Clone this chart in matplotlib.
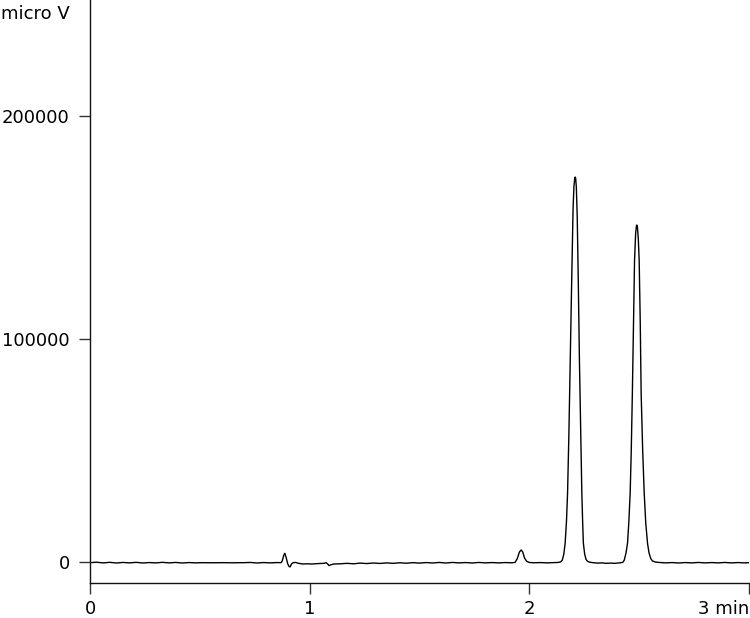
import matplotlib
matplotlib.use("Agg")
import matplotlib.pyplot as plt

# Chromatogram trace (time in min, signal in micro V)
time_min = [
    0.00, 0.03, 0.06, 0.09, 0.12, 0.15, 0.18, 0.21, 0.24, 0.27, 0.30, 0.33, 0.36, 0.39,
    0.42, 0.45, 0.48, 0.51, 0.55, 0.60, 0.65, 0.70, 0.73, 0.76, 0.79, 0.82, 0.85, 0.87,
    0.875, 0.882, 0.887, 0.893, 0.900, 0.906, 0.911, 0.918, 0.925, 0.935, 0.95, 0.97,
    0.99, 1.01, 1.04, 1.065, 1.075, 1.082, 1.088, 1.095, 1.11, 1.14, 1.17, 1.20, 1.23,
    1.26, 1.29, 1.32, 1.35, 1.38, 1.41, 1.44, 1.47, 1.50, 1.53, 1.56, 1.59, 1.62, 1.65,
    1.68, 1.71, 1.74, 1.77, 1.80, 1.83, 1.86, 1.89, 1.92, 1.935, 1.945, 1.955, 1.963,
    1.970, 1.978, 1.988, 2.00, 2.02, 2.05, 2.08, 2.11, 2.13, 2.142, 2.150, 2.157, 2.163,
    2.169, 2.174, 2.180, 2.186, 2.193, 2.199, 2.203, 2.207, 2.209, 2.211, 2.214, 2.218,
    2.223, 2.228, 2.234, 2.239, 2.243, 2.246, 2.252, 2.258, 2.265, 2.275, 2.29, 2.31,
    2.33, 2.35, 2.37, 2.39, 2.41, 2.425, 2.432, 2.440, 2.447, 2.453, 2.459, 2.464, 2.469,
    2.474, 2.479, 2.484, 2.488, 2.4895, 2.492, 2.496, 2.500, 2.505, 2.509, 2.516, 2.523,
    2.530, 2.538, 2.545, 2.553, 2.560, 2.573, 2.59, 2.62, 2.65, 2.68, 2.71, 2.74, 2.77,
    2.80, 2.83, 2.86, 2.89, 2.92, 2.95, 2.98, 3.00,
]
signal_uv = [
    -300, -100, -400, -150, -450, -200, -400, -150, -450, -250, -400, -150, -400, -200,
    -450, -250, -400, -300, -350, -300, -350, -300, -200, -450, -250, -400, -250, -300,
    500, 3000, 3900, 2000, -800, -2000, -2200, -800, -300, -200, -600, -900,
    -800, -900, -700, -600, -300, -900, -1600, -1300, -900, -800, -600, -800, -500,
    -700, -450, -650, -400, -600, -350, -550, -300, -500, -250, -450, -200, -450, -200,
    -400, -250, -450, -200, -400, -250, -400, -250, -350, -200, 1500, 4500, 5400,
    4500, 1800, 300, -200, -350, -250, -400, -300, -200, 0, 800, 3500, 8400,
    18000, 30800, 57000, 90600, 127000, 158000, 168500, 172300, 172600, 172000, 168000, 155000,
    125000, 90600, 57000, 30800, 17000, 8400, 3500, 1200, 300, -100, -300, -500,
    -400, -600, -500, -600, -400, -200, 800, 4000, 8400, 18000, 30800, 50000, 75600,
    105000, 135400, 147500, 151000, 151100, 150300, 145000, 135400, 107000, 75600, 50000, 30800,
    17500, 8400, 4000, 1500, 500, 0, -200, -400, -250, -450, -250, -400, -200,
    -400, -250, -400, -200, -400, -250, -400, -300,
]

x_ticks = [0, 1, 2, 3]
x_tick_labels = ["0", "1", "2", "3 min"]
y_ticks = [0, 100000, 200000]
y_tick_labels = ["0", "100000", "200000"]
y_unit = "micro V"

W, H = 750, 618
fig = plt.figure(figsize=(W / 100, H / 100), dpi=100)
ax = fig.add_axes([90 / W, 1 - 583 / H, 659 / W, 583 / H])

ax.plot(time_min, signal_uv, color="black", lw=1.0, solid_joinstyle="round")

ax.set_xlim(0, 3)
ax.set_ylim(-9417, 252018)

for s in ("top", "right"):
    ax.spines[s].set_visible(False)
for s in ("left", "bottom"):
    ax.spines[s].set_color("#111111")
    ax.spines[s].set_linewidth(1.0)

ax.set_xticks(x_ticks)
ax.set_xticklabels(x_tick_labels)
ax.set_yticks(y_ticks)
ax.set_yticklabels(y_tick_labels)
ax.tick_params(axis="both", direction="out", length=8, width=1.0, color="#333333",
               labelsize=13, pad=6.5, labelcolor="black")
ax.tick_params(axis="x", pad=4.5)
ax.get_xticklabels()[-1].set_horizontalalignment("right")

fig.text(70 / W, 1 - 14 / H, y_unit, ha="right", va="center", fontsize=13)

fig.savefig("out.png", dpi=100)
